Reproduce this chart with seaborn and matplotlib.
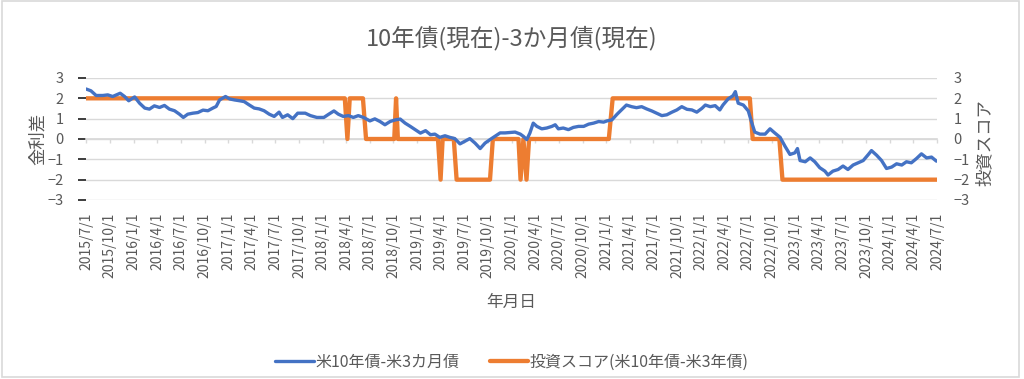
import pandas as pd
import matplotlib.pyplot as plt
import seaborn as sns

# 米10年債-米3カ月債
spread_dates = [
    "2015-07-01", "2015-07-20", "2015-08-09", "2015-09-04", "2015-09-23", "2015-10-12",
    "2015-11-10", "2015-11-27", "2015-12-13", "2016-01-05", "2016-01-24", "2016-02-13",
    "2016-03-02", "2016-03-21", "2016-04-10", "2016-04-29", "2016-05-18", "2016-06-07",
    "2016-06-26", "2016-07-11", "2016-07-28", "2016-08-17", "2016-09-05", "2016-09-25",
    "2016-10-14", "2016-11-02", "2016-11-15", "2016-11-28", "2016-12-21", "2017-01-06",
    "2017-01-25", "2017-02-14", "2017-03-03", "2017-03-22", "2017-04-11", "2017-04-30",
    "2017-05-19", "2017-06-08", "2017-06-27", "2017-07-16", "2017-07-29", "2017-08-18",
    "2017-09-07", "2017-09-26", "2017-10-25", "2017-11-14", "2017-12-09", "2018-01-05",
    "2018-01-24", "2018-02-13", "2018-03-02", "2018-03-21", "2018-04-10", "2018-04-29",
    "2018-05-18", "2018-06-07", "2018-07-02", "2018-07-21", "2018-08-10", "2018-08-29",
    "2018-09-18", "2018-10-08", "2018-10-27", "2018-11-15", "2018-12-05", "2018-12-24",
    "2019-01-13", "2019-02-02", "2019-02-21", "2019-03-10", "2019-03-29", "2019-04-18",
    "2019-05-07", "2019-05-26", "2019-06-15", "2019-07-04", "2019-07-23", "2019-08-12",
    "2019-09-01", "2019-09-20", "2019-10-09", "2019-10-28", "2019-11-17", "2019-12-06",
    "2019-12-25", "2020-01-14", "2020-02-03", "2020-02-15", "2020-02-28", "2020-03-11",
    "2020-03-24", "2020-04-07", "2020-04-26", "2020-05-15", "2020-06-04", "2020-06-17",
    "2020-06-29", "2020-07-18", "2020-08-07", "2020-08-26", "2020-09-15", "2020-10-05",
    "2020-10-24", "2020-11-12", "2020-12-02", "2020-12-21", "2021-01-03", "2021-01-22",
    "2021-02-11", "2021-02-28", "2021-03-19", "2021-04-08", "2021-04-27", "2021-05-17",
    "2021-06-05", "2021-06-25", "2021-07-14", "2021-08-03", "2021-08-22", "2021-09-11",
    "2021-09-30", "2021-10-19", "2021-11-08", "2021-11-27", "2021-12-16", "2022-01-05",
    "2022-01-18", "2022-02-06", "2022-02-25", "2022-03-15", "2022-03-27", "2022-04-16",
    "2022-05-05", "2022-05-14", "2022-05-25", "2022-06-14", "2022-07-03", "2022-07-15",
    "2022-07-28", "2022-08-17", "2022-09-06", "2022-09-25", "2022-10-14", "2022-11-03",
    "2022-11-22", "2022-12-11", "2022-12-30", "2023-01-09", "2023-01-19", "2023-02-08",
    "2023-02-27", "2023-03-17", "2023-04-05", "2023-04-25", "2023-05-07", "2023-05-26",
    "2023-06-15", "2023-07-04", "2023-07-23", "2023-08-12", "2023-09-01", "2023-09-20",
    "2023-10-10", "2023-10-22", "2023-11-11", "2023-11-30", "2023-12-19", "2024-01-08",
    "2024-01-27", "2024-02-16", "2024-03-05", "2024-03-24", "2024-04-13", "2024-05-02",
    "2024-05-22", "2024-06-10", "2024-06-29",
]
spread_values = [
    2.46, 2.37, 2.14, 2.14, 2.17, 2.09,
    2.25, 2.09, 1.88, 2.07, 1.76, 1.52,
    1.47, 1.63, 1.55, 1.65, 1.47, 1.39,
    1.22, 1.06, 1.22, 1.27, 1.30, 1.42,
    1.39, 1.52, 1.60, 1.92, 2.09, 1.97,
    1.92, 1.88, 1.84, 1.68, 1.52, 1.48,
    1.39, 1.22, 1.11, 1.32, 1.06, 1.19,
    1.00, 1.27, 1.27, 1.15, 1.06, 1.06,
    1.22, 1.38, 1.22, 1.11, 1.15, 1.06,
    1.15, 1.06, 0.89, 0.99, 0.86, 0.70,
    0.86, 0.94, 0.98, 0.78, 0.62, 0.46,
    0.29, 0.41, 0.21, 0.24, 0.08, 0.16,
    0.08, 0.02, -0.24, -0.11, 0.02, -0.20,
    -0.47, -0.20, -0.03, 0.13, 0.30, 0.30,
    0.32, 0.34, 0.24, 0.13, -0.03, 0.29,
    0.78, 0.62, 0.50, 0.54, 0.62, 0.70,
    0.50, 0.54, 0.46, 0.57, 0.62, 0.62,
    0.73, 0.78, 0.86, 0.83, 0.89, 0.94,
    1.22, 1.43, 1.67, 1.59, 1.54, 1.59,
    1.48, 1.38, 1.27, 1.15, 1.19, 1.32,
    1.43, 1.59, 1.46, 1.43, 1.32, 1.51,
    1.67, 1.59, 1.64, 1.43, 1.67, 1.97,
    2.13, 2.33, 1.76, 1.67, 1.38, 0.86,
    0.34, 0.24, 0.24, 0.50, 0.29, 0.08,
    -0.36, -0.76, -0.68, -0.47, -1.06, -1.12,
    -0.93, -1.12, -1.41, -1.58, -1.77, -1.58,
    -1.50, -1.33, -1.50, -1.28, -1.17, -1.06,
    -0.76, -0.57, -0.80, -1.06, -1.45, -1.38,
    -1.22, -1.28, -1.12, -1.17, -0.96, -0.73,
    -0.93, -0.89, -1.09,
]

# 投資スコア(米10年債-米3年債)
score_dates = [
    "2015-07-01", "2018-03-27", "2018-04-06", "2018-04-15", "2018-06-05", "2018-06-17",
    "2018-10-04", "2018-10-11", "2018-10-18", "2019-03-22", "2019-04-01", "2019-04-09",
    "2019-05-22", "2019-06-02", "2019-10-09", "2019-10-20", "2020-01-27", "2020-02-04",
    "2020-02-15", "2020-02-27", "2020-03-08", "2021-01-10", "2021-01-25", "2022-07-09",
    "2022-07-20", "2022-10-31", "2022-11-12", "2024-07-01",
]
score_values = [
    2, 2, 0, 2, 2, 0,
    0, 2, 0, 0, -2, 0,
    0, -2, -2, 0, 0, -2,
    0, -2, 0, 0, 2, 2,
    0, 0, -2, -2,
]

title = "10年債(現在)-3か月債(現在)"
spread_name = "米10年債-米3カ月債"
score_name = "投資スコア(米10年債-米3年債)"

spread = pd.DataFrame({"date": pd.to_datetime(spread_dates), "value": spread_values})
score = pd.DataFrame({"date": pd.to_datetime(score_dates), "value": score_values})

sns.set_theme(style="white")
plt.rcParams["font.family"] = ["Noto Sans CJK JP", "DejaVu Sans"]

text_color = "#595959"
grid_color = "#D9D9D9"
blue = "#4472C4"
orange = "#ED7D31"

fig = plt.figure(figsize=(10.24, 3.79), dpi=100)
ax = fig.add_axes([0.084, 0.4723, 0.831, 0.3219])

sns.lineplot(data=score, x="date", y="value", ax=ax, color=orange, linewidth=3.1,
             label=score_name, estimator=None, sort=False, zorder=2)
sns.lineplot(data=spread, x="date", y="value", ax=ax, color=blue, linewidth=2.4,
             label=spread_name, estimator=None, sort=False, zorder=3)
handles, labels = ax.get_legend_handles_labels()
if ax.get_legend() is not None:
    ax.get_legend().remove()

start, end = pd.Timestamp("2015-07-01"), pd.Timestamp("2024-07-01")
ax.set_xlim(start, end)
ax.set_ylim(-3, 3)
ax.set_yticks(range(-3, 4))
ax.set_axisbelow(True)
ax.yaxis.grid(True, color=grid_color, linewidth=1)
ax.xaxis.grid(False)

# quarterly date ticks, axis line sits at zero but labels go below the plot
tick_dates = pd.date_range(start, end, freq="QS-JAN")
ax.set_xticks(tick_dates)
ax.set_xticklabels([f"{d.year}/{d.month}/{d.day}" for d in tick_dates])
for side in ["top", "right", "left"]:
    ax.spines[side].set_visible(False)
ax.spines["bottom"].set_position(("data", 0))
ax.spines["bottom"].set_color(grid_color)
ax.spines["bottom"].set_zorder(1)
ax.tick_params(axis="x", bottom=True, direction="out", length=3, width=1,
               color=grid_color, pad=50, labelsize=10, labelcolor=text_color,
               labelrotation=90)
ax.tick_params(axis="y", left=False, pad=10, labelsize=10.5, labelcolor=text_color)

ax.set_ylabel("金利差", fontsize=12.5, color=text_color, va="center")
ax.yaxis.set_label_coords(-0.0564, 0.5)
ax.set_xlabel("年月日", fontsize=12, color=text_color, va="center")
ax.xaxis.set_label_coords(0.5, -0.836)

# secondary axis for the score, same range
ax2 = ax.twinx()
ax2.set_ylim(-3, 3)
ax2.set_yticks(range(-3, 4))
ax2.grid(False)
for side in ["top", "right", "left", "bottom"]:
    ax2.spines[side].set_visible(False)
ax2.tick_params(axis="y", right=False, pad=6, labelsize=10.5, labelcolor=text_color)
ax2.set_ylabel("投資スコア", fontsize=12.5, color=text_color, va="center")
ax2.yaxis.set_label_coords(1.0564, 0.47)

fig.suptitle(title, y=0.9, va="center", fontsize=17, color=text_color)

fig.legend([handles[1], handles[0]], [labels[1], labels[0]], loc="center",
           bbox_to_anchor=(0.5, 0.045), ncol=2, frameon=False, fontsize=11.5,
           handlelength=2.4, handletextpad=0.1, columnspacing=1.9,
           labelcolor=text_color)

fig.patches.append(plt.Rectangle((0.002, 0.005), 0.993, 0.992, transform=fig.transFigure,
                                 fill=False, edgecolor=grid_color, linewidth=1.2))

fig.savefig("out.png", dpi=100)
